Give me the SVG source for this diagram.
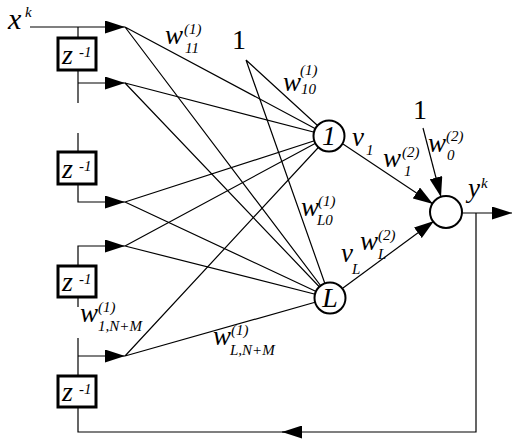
<svg xmlns="http://www.w3.org/2000/svg" width="521" height="446" viewBox="0 0 521 446">
<style>
.ln{stroke:#000;stroke-width:1.2;fill:none}
.box{fill:#fff;stroke:#000;stroke-width:3}
.node{fill:#fff;stroke:#000;stroke-width:2}
.f{font-family:'Liberation Serif','Times New Roman',serif}
.t{font-style:italic;fill:#000}
.big{font-size:27px}
.sm{font-size:15px}
.one{font-size:28px;fill:#000}
</style>
<defs>
<marker id="ah" markerUnits="userSpaceOnUse" markerWidth="20" markerHeight="13" refX="20" refY="6.5" orient="auto">
<path d="M0,0 L20,6.5 L0,13 Z" fill="#000"/>
</marker>
</defs>
<rect width="521" height="446" fill="#fff"/>
<g id="connectors">
<path class="ln" d="M30,27 H125" marker-end="url(#ah)"/>
<path class="ln" d="M78,27 V38"/>
<path class="ln" d="M78,70 V103"/>
<path class="ln" d="M78,83 H125" marker-end="url(#ah)"/>
<path class="ln" d="M78,133 V152"/>
<path class="ln" d="M78,184 V202 H125" marker-end="url(#ah)"/>
<path class="ln" d="M78,266 V246 H125" marker-end="url(#ah)"/>
<path class="ln" d="M78,297 V307"/>
<path class="ln" d="M78,338 V376"/>
<path class="ln" d="M78,356 H125" marker-end="url(#ah)"/>
<path class="ln" d="M78,407 V432 H300"/>
<path class="ln" d="M476,213 V432 H282" marker-end="url(#ah)"/>
<path class="ln" d="M125,27 L329,136 M125,27 L330,298"/>
<path class="ln" d="M125,83 L329,136 M125,83 L330,298"/>
<path class="ln" d="M125,202 L329,136 M125,202 L330,298"/>
<path class="ln" d="M125,246 L329,136 M125,246 L330,298"/>
<path class="ln" d="M125,356 L329,136 M125,356 L330,298"/>
<path class="ln" d="M246,60 L329,136 M246,60 L330,298"/>
<path class="ln" d="M343,144 L433,204" marker-end="url(#ah)"/>
<path class="ln" d="M343,288 L434,221" marker-end="url(#ah)"/>
<path class="ln" d="M423,128 L441,197" marker-end="url(#ah)"/>
<path class="ln" d="M462,213 H512" marker-end="url(#ah)"/>
</g>
<g class="f">
<g id="delay1"><rect class="box" x="58" y="38" width="38" height="32"/><text class="t" x="62" y="64" font-size="28">z</text><text class="t sm" x="79" y="57">-1</text></g>
<g id="delay2"><rect class="box" x="58" y="152" width="38" height="32"/><text class="t" x="62" y="178" font-size="28">z</text><text class="t sm" x="79" y="171">-1</text></g>
<g id="delay3"><rect class="box" x="58" y="266" width="38" height="31"/><text class="t" x="62" y="291" font-size="28">z</text><text class="t sm" x="79" y="284">-1</text></g>
<g id="delay4"><rect class="box" x="58" y="376" width="38" height="31"/><text class="t" x="62" y="401" font-size="28">z</text><text class="t sm" x="79" y="394">-1</text></g>
<g id="neuron1"><circle class="node" cx="329" cy="136" r="15.5"/><text class="t" x="329" y="145" font-size="28" text-anchor="middle">1</text></g>
<g id="neuronL"><circle class="node" cx="330" cy="298" r="15.5"/><text class="t" x="330" y="307" font-size="28" text-anchor="middle">L</text></g>
<g id="output"><circle class="node" cx="446" cy="212" r="16"/></g>
<g id="labels">
<text class="t" x="8" y="29" font-size="30">x</text><text class="t sm" x="25" y="17">k</text>
<text class="one" x="232" y="49">1</text>
<text class="one" x="413" y="119">1</text>
<text class="t big" x="165" y="44">w</text><text class="t sm" x="184" y="34">(1)</text><text class="t sm" x="185" y="53">11</text>
<text class="t big" x="283" y="91">w</text><text class="t sm" x="300" y="75">(1)</text><text class="t sm" x="301" y="94">10</text>
<text class="t big" x="352" y="146">v</text><text class="t sm" x="366" y="155">1</text>
<text class="t big" x="383" y="167">w</text><text class="t sm" x="402" y="157">(2)</text><text class="t sm" x="404" y="176">1</text>
<text class="t big" x="428" y="152">w</text><text class="t sm" x="446" y="141">(2)</text><text class="t sm" x="447" y="160">0</text>
<text class="t big" x="468" y="197">y</text><text class="t sm" x="481" y="188">k</text>
<text class="t big" x="301" y="216">w</text><text class="t sm" x="318" y="206">(1)</text><text class="t sm" x="317" y="225">L0</text>
<text class="t big" x="341" y="262">v</text><text class="t sm" x="352" y="274">L</text>
<text class="t big" x="360" y="250">w</text><text class="t sm" x="378" y="240">(2)</text><text class="t sm" x="378" y="259">L</text>
<text class="t big" x="80" y="322">w</text><text class="t sm" x="98" y="312">(1)</text><text class="t sm" x="98" y="331">1,N+M</text>
<text class="t big" x="213" y="345">w</text><text class="t sm" x="231" y="335">(1)</text><text class="t sm" x="230" y="355">L,N+M</text>
</g>
</g>
</svg>
